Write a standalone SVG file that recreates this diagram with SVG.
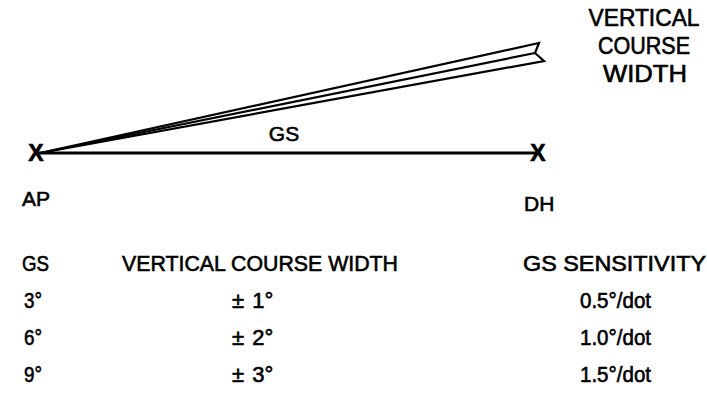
<svg xmlns="http://www.w3.org/2000/svg" width="707" height="404" viewBox="0 0 707 404">
<style>
text{font-family:"Liberation Sans",Arial,Helvetica,sans-serif;fill:#000;stroke:#000;stroke-width:0.6}
.lbl{font-size:21px}
.top{font-size:23px;text-anchor:middle}
.tbl{font-size:22px}
.pm{word-spacing:2px}
.mark{font-size:23px;font-weight:bold;text-anchor:middle}
.mid{text-anchor:middle}
.ln{stroke:#000;fill:none;stroke-linecap:round;stroke-linejoin:miter}
</style>
<rect width="707" height="404" fill="#fff"/>
<g id="connectors">
<line class="ln" x1="38" y1="153" x2="537" y2="153" stroke-width="3"/>
<polyline class="ln" points="40,153 539,43 535,53 544,61 40,153" stroke-width="2.2"/>
<line class="ln" x1="40" y1="153" x2="535" y2="53" stroke-width="2.2"/>
</g>
<g id="AP">
<text class="mark" x="36" y="161">X</text>
<text class="lbl" x="22" y="206">AP</text>
</g>
<g id="DH">
<text class="mark" x="538" y="161">X</text>
<text class="lbl" x="524" y="211">DH</text>
</g>
<g id="GS-label">
<text class="lbl mid" x="284" y="141">GS</text>
</g>
<g id="vcw-label">
<text class="top" x="644" y="26" textLength="111" lengthAdjust="spacingAndGlyphs">VERTICAL</text>
<text class="top" x="644" y="54" textLength="92" lengthAdjust="spacingAndGlyphs">COURSE</text>
<text class="top" x="645" y="82" textLength="84" lengthAdjust="spacingAndGlyphs">WIDTH</text>
</g>
<g id="table">
<text class="tbl" x="22" y="271" textLength="27" lengthAdjust="spacingAndGlyphs">GS</text>
<text class="tbl" x="122" y="271" textLength="276" lengthAdjust="spacingAndGlyphs">VERTICAL COURSE WIDTH</text>
<text class="tbl" x="523" y="271" textLength="183" lengthAdjust="spacingAndGlyphs">GS SENSITIVITY</text>
<text class="tbl" x="24" y="308" textLength="18" lengthAdjust="spacingAndGlyphs">3°</text>
<text class="tbl pm" x="232" y="308">± 1°</text>
<text class="tbl" x="580" y="308" textLength="71" lengthAdjust="spacingAndGlyphs">0.5°/dot</text>
<text class="tbl" x="24" y="345" textLength="18" lengthAdjust="spacingAndGlyphs">6°</text>
<text class="tbl pm" x="232" y="345">± 2°</text>
<text class="tbl" x="580" y="345" textLength="71" lengthAdjust="spacingAndGlyphs">1.0°/dot</text>
<text class="tbl" x="24" y="382" textLength="18" lengthAdjust="spacingAndGlyphs">9°</text>
<text class="tbl pm" x="232" y="382">± 3°</text>
<text class="tbl" x="580" y="382" textLength="71" lengthAdjust="spacingAndGlyphs">1.5°/dot</text>
</g>
</svg>
